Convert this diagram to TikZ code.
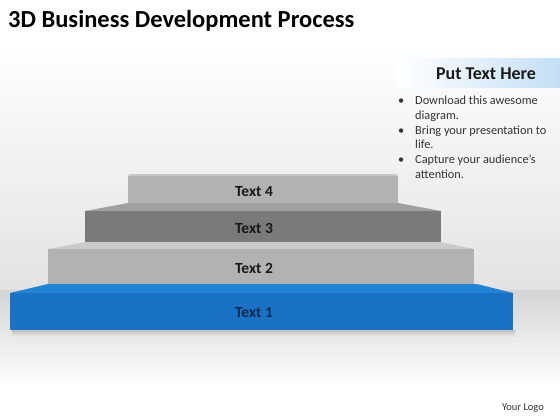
\documentclass[tikz,border=0pt]{standalone}
\usepackage{fontspec}
\setmainfont{Carlito}
\definecolor{bluefront}{HTML}{1A72C4}
\definecolor{bluetop}{HTML}{2282D4}
\definecolor{lgfront}{HTML}{B2B2B2}
\definecolor{lgtop}{HTML}{CBCBCB}
\definecolor{dgfront}{HTML}{7A7A7A}
\definecolor{dgtop}{HTML}{A0A0A0}
\definecolor{textblue}{HTML}{0E2A52}
\definecolor{bodytext}{HTML}{333333}
\definecolor{headblue}{HTML}{C4DFF5}
\tikzset{
  steplabel/.style={font=\bfseries\fontsize{15.5}{17}\selectfont, text=black!90},
  bullettext/.style={anchor=base west, font=\fontsize{12.3}{14}\selectfont, text=bodytext, inner sep=0pt},
  bulletdot/.style={anchor=base west, font=\fontsize{12.3}{14}\selectfont, text=bodytext, inner sep=0pt}
}
\begin{document}
\begin{tikzpicture}[x=1pt,y=-1pt]
\useasboundingbox (0,0) rectangle (560,420);
% background
\fill[white] (0,0) rectangle (560,420);
\shade[top color=white, bottom color=black!11] (0,40) rectangle (560,290);
\shade[top color=black!17, bottom color=white] (0,290) rectangle (560,385);
% title
\node[anchor=base west, inner sep=0pt, font=\bfseries\fontsize{24.5}{28}\selectfont] (title) at (8,28) {3D Business Development Process};
% header box
\shade[left color=white, right color=headblue] (396,59) rectangle (560,88);
\node[font=\bfseries\fontsize{18}{20}\selectfont, text=black!90] (head) at (486,74) {Put Text Here};
% bullets
\node[bulletdot] (b1) at (398,104) {•};
\node[bullettext] (t1a) at (415,104) {Download this awesome};
\node[bullettext] (t1b) at (415,119) {diagram.};
\node[bulletdot] (b2) at (398,134) {•};
\node[bullettext] (t2a) at (415,134) {Bring your presentation to};
\node[bullettext] (t2b) at (415,148) {life.};
\node[bulletdot] (b3) at (398,163) {•};
\node[bullettext] (t3a) at (415,163) {Capture your audience’s};
\node[bullettext] (t3b) at (415,178) {attention.};
% soft shadow under step 1
\shade[top color=black!35, bottom color=black!10, opacity=0.6] (12,330) rectangle (515,336);
% step 1 (blue)
\fill[bluetop] (48,284) -- (477,284) -- (513,293) -- (10,293) -- cycle;
\fill[bluefront] (10,293) rectangle (513,330);
% step 2
\fill[lgtop] (86,242) -- (440,242) -- (474,249) -- (48,249) -- cycle;
\fill[lgfront] (48,249) rectangle (474,284);
% step 3
\fill[dgtop] (128,203) -- (398,203) -- (441,211) -- (85,211) -- cycle;
\fill[dgfront] (85,211) rectangle (441,242);
% step 4
\fill[black!22] (130,174) -- (396,174) -- (398,176) -- (128,176) -- cycle;
\fill[lgfront] (128,176) rectangle (398,203);
% labels
\node[steplabel] (s4) at (254,192) {Text 4};
\node[steplabel] (s3) at (254,228) {Text 3};
\node[steplabel] (s2) at (254,268) {Text 2};
\node[steplabel, text=textblue] (s1) at (254,313) {Text 1};
% logo
\node[font=\fontsize{10.5}{12}\selectfont, text=black!80] (logo) at (523,408) {Your Logo};
\end{tikzpicture}
\end{document}
